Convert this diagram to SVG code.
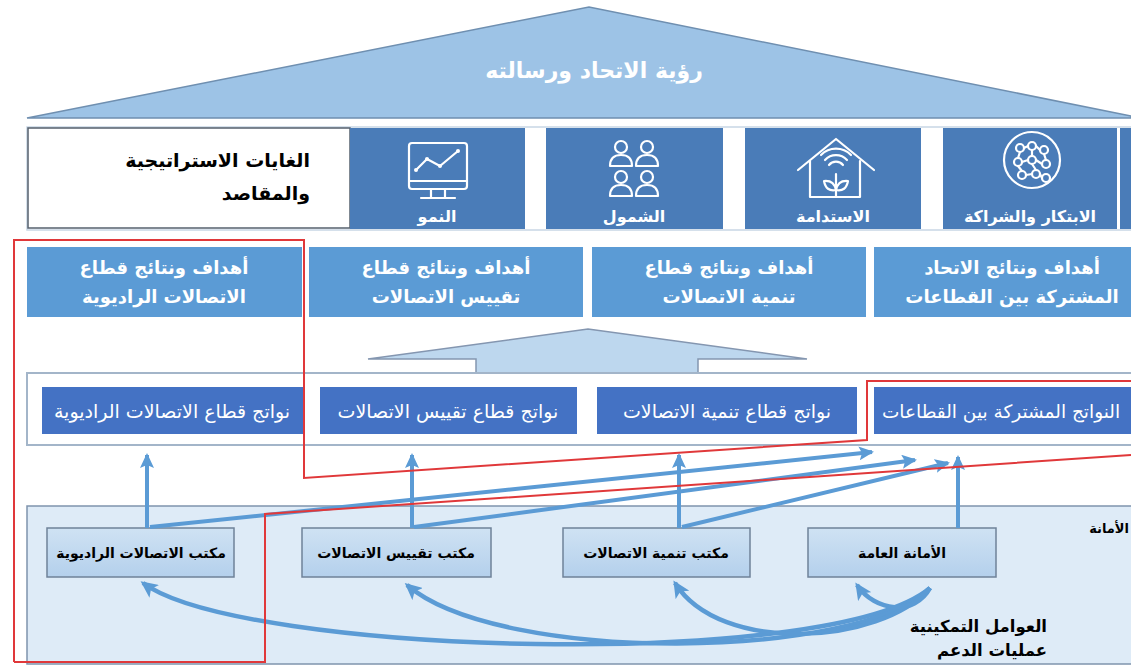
<svg xmlns="http://www.w3.org/2000/svg" width="1131" height="669" viewBox="0 0 1131 669">
<style>
text{font-family:"DejaVu Sans","Noto Sans",sans-serif;}
.w{fill:#fff;}
.b{font-weight:bold;}
.col{fill:#4a7cb8;}
.goal{fill:#5b9bd5;}
.out{fill:#4472c4;}
.office{fill:url(#og);stroke:#6f8299;stroke-width:1.5;}
.ic{fill:none;stroke:#fff;stroke-width:2.2;stroke-linecap:round;stroke-linejoin:round;}
.red{fill:none;stroke:#e0383a;stroke-width:2;}
.ar{fill:none;stroke:#5b9bd5;stroke-width:4;marker-end:url(#ah);}
.cv{fill:none;stroke:#5b9bd5;stroke-width:4.5;marker-end:url(#ah2);}
</style>
<defs>
<linearGradient id="og" x1="0" y1="0" x2="0" y2="1"><stop offset="0" stop-color="#cfe2f3"/><stop offset="1" stop-color="#b4d0ec"/></linearGradient>
<marker id="ah" markerUnits="userSpaceOnUse" markerWidth="16" markerHeight="14" refX="13" refY="7" orient="auto"><path d="M0,0 L15,7 L0,14 L3,7 z" fill="#5b9bd5"/></marker>
<marker id="ah2" markerUnits="userSpaceOnUse" markerWidth="18" markerHeight="16" refX="14" refY="8" orient="auto"><path d="M0,0 L17,8 L0,16 L4,8 z" fill="#5b9bd5"/></marker>
</defs>
<rect width="1131" height="669" fill="#fff"/>

<g id="roof">
<polygon points="27,118 589,7 1131,116 1131,118" fill="#9dc3e6" stroke="#6f8fb0" stroke-width="1.5"/>
<text x="594" y="78" class="w b" font-size="22" text-anchor="middle">رؤية الاتحاد ورسالته</text>
</g>

<g id="goals-row">
<rect x="27" y="127" width="1110" height="103" fill="#fff" stroke="#c8d6e5" stroke-width="1.5"/>
<rect x="28" y="128" width="322" height="100" fill="#fff" stroke="#55606e" stroke-width="1.5"/>
<text x="310" y="167" class="b" font-size="19" text-anchor="end" fill="#000">الغايات الاستراتيجية</text>
<text x="310" y="200" class="b" font-size="19" text-anchor="end" fill="#000">والمقاصد</text>
</g>

<g id="goal-growth">
<rect x="350" y="128" width="175" height="101" class="col"/>
<rect x="409" y="143" width="58" height="46" rx="3" class="ic"/>
<line x1="409" y1="181" x2="467" y2="181" class="ic"/>
<line x1="431" y1="189" x2="431" y2="197" class="ic"/>
<line x1="445" y1="189" x2="445" y2="197" class="ic"/>
<line x1="421" y1="198" x2="455" y2="198" class="ic"/>
<polyline points="416,170 427,159 440,166 458,151" class="ic"/>
<circle cx="416" cy="170" r="2" fill="#fff"/><circle cx="427" cy="159" r="2" fill="#fff"/><circle cx="440" cy="166" r="2" fill="#fff"/><circle cx="458" cy="151" r="2" fill="#fff"/>
<text x="437" y="222" class="w b" font-size="16" text-anchor="middle">النمو</text>
</g>

<g id="goal-inclusion">
<rect x="546" y="128" width="177" height="101" class="col"/>
<circle cx="621" cy="147" r="6" class="ic"/><path d="M610,166 Q610,155 621,155 Q632,155 632,166 Z" class="ic"/>
<circle cx="647" cy="147" r="6" class="ic"/><path d="M636,166 Q636,155 647,155 Q658,155 658,166 Z" class="ic"/>
<circle cx="621" cy="177" r="6" class="ic"/><path d="M610,196 Q610,185 621,185 Q632,185 632,196 Z" class="ic"/>
<circle cx="647" cy="177" r="6" class="ic"/><path d="M636,196 Q636,185 647,185 Q658,185 658,196 Z" class="ic"/>
<text x="634" y="222" class="w b" font-size="16" text-anchor="middle">الشمول</text>
</g>

<g id="goal-sustainability">
<rect x="745" y="128" width="176" height="101" class="col"/>
<polyline points="798,170 836,139 874,170" class="ic"/>
<polyline points="810,161 810,197 860,197 860,161" class="ic"/>
<path d="M829,165 A9,9 0 0 1 843,165" class="ic"/>
<path d="M825,160 A15,15 0 0 1 847,160" class="ic"/>
<path d="M821,155 A21,21 0 0 1 851,155" class="ic"/>
<line x1="836" y1="174" x2="836" y2="197" class="ic"/>
<path d="M836,190 Q826,192 824,181 Q834,180 836,190 Z" class="ic"/>
<path d="M836,190 Q846,192 848,181 Q838,180 836,190 Z" class="ic"/>
<text x="833" y="222" class="w b" font-size="16" text-anchor="middle">الاستدامة</text>
</g>

<g id="goal-innovation">
<rect x="943" y="128" width="174" height="101" class="col"/>
<rect x="1120" y="128" width="11" height="101" class="col"/>
<circle cx="1032" cy="160" r="28" class="ic"/>
<g class="ic">
<circle cx="1020" cy="148" r="4"/><circle cx="1032" cy="146" r="4"/><circle cx="1044" cy="150" r="4"/>
<circle cx="1018" cy="162" r="4"/><circle cx="1032" cy="160" r="4"/><circle cx="1046" cy="164" r="4"/>
<circle cx="1022" cy="175" r="4"/><circle cx="1036" cy="174" r="4"/><circle cx="1046" cy="178" r="4"/>
<path d="M1024,148 L1028,146 M1036,146 L1040,150 M1022,162 L1028,160 M1036,160 L1042,164 M1026,175 L1032,174 M1040,174 L1042,178 M1020,152 L1018,158 M1032,150 L1032,156 M1044,154 L1046,160 M1018,166 L1022,171 M1032,164 L1036,170"/>
</g>
<text x="1030" y="222" class="w b" font-size="16" text-anchor="middle">الابتكار والشراكة</text>
</g>

<g id="sector-goals">
<g id="goal-box-r"><rect x="27" y="247" width="275" height="70" class="goal"/>
<text x="164" y="274" class="w b" font-size="18" text-anchor="middle">أهداف ونتائج قطاع</text>
<text x="164" y="303" class="w b" font-size="18" text-anchor="middle">الاتصالات الراديوية</text></g>
<g id="goal-box-t"><rect x="309" y="247" width="274" height="70" class="goal"/>
<text x="446" y="274" class="w b" font-size="18" text-anchor="middle">أهداف ونتائج قطاع</text>
<text x="446" y="303" class="w b" font-size="18" text-anchor="middle">تقييس الاتصالات</text></g>
<g id="goal-box-d"><rect x="592" y="247" width="274" height="70" class="goal"/>
<text x="729" y="274" class="w b" font-size="18" text-anchor="middle">أهداف ونتائج قطاع</text>
<text x="729" y="303" class="w b" font-size="18" text-anchor="middle">تنمية الاتصالات</text></g>
<g id="goal-box-x"><rect x="874" y="247" width="257" height="70" class="goal"/>
<text x="1012" y="274" class="w b" font-size="18" text-anchor="middle">أهداف ونتائج الاتحاد</text>
<text x="1012" y="303" class="w b" font-size="18" text-anchor="middle">المشتركة بين القطاعات</text></g>
</g>

<g id="block-arrow">
<polygon points="368,359 588,329 807,359 698,359 698,373 476,373 476,359" fill="#bdd7ee" stroke="#8496b0" stroke-width="1.5"/>
</g>

<g id="outputs">
<rect x="27" y="373" width="1110" height="72" fill="#fff" stroke="#a3b5c9" stroke-width="2"/>
<g id="out-r"><rect x="42" y="387" width="261" height="47" class="out"/>
<text x="172" y="418" class="w" font-size="19" text-anchor="middle">نواتج قطاع الاتصالات الراديوية</text></g>
<g id="out-t"><rect x="320" y="387" width="257" height="47" class="out"/>
<text x="448" y="418" class="w" font-size="19" text-anchor="middle">نواتج قطاع تقييس الاتصالات</text></g>
<g id="out-d"><rect x="597" y="387" width="260" height="47" class="out"/>
<text x="727" y="418" class="w" font-size="19" text-anchor="middle">نواتج قطاع تنمية الاتصالات</text></g>
<g id="out-x"><rect x="874" y="387" width="257" height="47" class="out"/>
<text x="1001" y="418" class="w" font-size="18.5" text-anchor="middle">النواتج المشتركة بين القطاعات</text></g>
</g>

<g id="enablers">
<rect x="27" y="506" width="1110" height="158" fill="#deebf7" stroke="#7f94ad" stroke-width="1.5"/>
<text x="1129" y="533" class="b" font-size="13" text-anchor="end" fill="#000">الأمانة</text>
<text x="1047" y="632" class="b" font-size="16.5" text-anchor="end" fill="#000">العوامل التمكينية</text>
<text x="1047" y="656" class="b" font-size="16.5" text-anchor="end" fill="#000">عمليات الدعم</text>
</g>
<g id="office-r"><rect x="47" y="528" width="187" height="49" class="office"/>
<text x="141" y="558" class="b" font-size="14" text-anchor="middle" fill="#000">مكتب الاتصالات الراديوية</text></g>
<g id="office-t"><rect x="302" y="528" width="189" height="49" class="office"/>
<text x="396" y="558" class="b" font-size="14" text-anchor="middle" fill="#000">مكتب تقييس الاتصالات</text></g>
<g id="office-d"><rect x="563" y="528" width="187" height="49" class="office"/>
<text x="656" y="558" class="b" font-size="14" text-anchor="middle" fill="#000">مكتب تنمية الاتصالات</text></g>
<g id="office-sg"><rect x="808" y="528" width="188" height="49" class="office"/>
<text x="902" y="558" class="b" font-size="14" text-anchor="middle" fill="#000">الأمانة العامة</text></g>

<g id="connectors">
<line x1="147" y1="528" x2="147" y2="455" class="ar"/>
<line x1="412" y1="528" x2="412" y2="455" class="ar"/>
<line x1="679" y1="528" x2="679" y2="455" class="ar"/>
<line x1="958" y1="528" x2="958" y2="457" class="ar"/>
<line x1="150" y1="527" x2="872" y2="452" class="ar"/>
<line x1="414" y1="527" x2="915" y2="460" class="ar"/>
<line x1="682" y1="527" x2="948" y2="463" class="ar"/>
<path d="M930,588 C830,672 240,655 143,583" class="cv"/>
<path d="M930,588 C860,660 500,665 407,585" class="cv"/>
<path d="M930,588 C880,645 720,655 675,583" class="cv"/>
<path d="M930,588 C915,616 875,612 857,585" class="cv"/>
</g>

<g id="highlight">
<path d="M14,662 L14,240 L304,240 L304,478 L867,440 L867,381 L1131,381" class="red"/>
<path d="M14,662 L265,662 L265,514 L1131,455" class="red"/>
</g>
</svg>
